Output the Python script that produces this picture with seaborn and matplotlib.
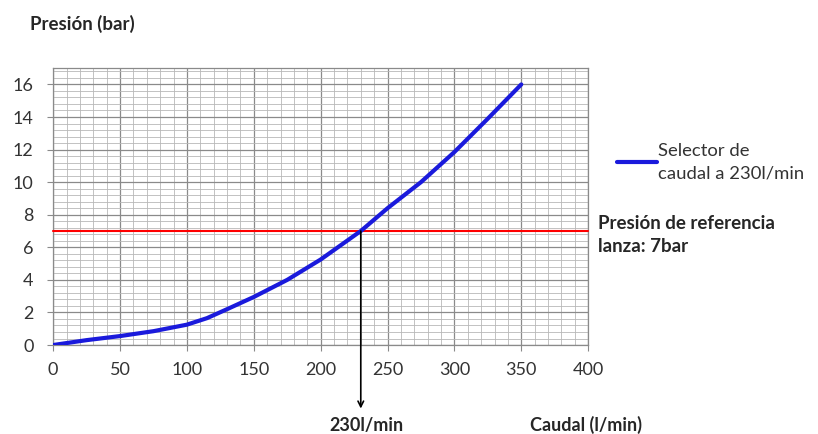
import numpy as np
import pandas as pd
import matplotlib
matplotlib.use('Agg')
import matplotlib.pyplot as plt
from matplotlib.ticker import MultipleLocator
import seaborn as sns

# Curve
caudal = [0, 25, 50, 75, 100, 115, 130, 150, 175, 200, 230, 250, 275, 300, 325, 350]
presion = [0, 0.3, 0.55, 0.85, 1.25, 1.65, 2.2, 2.95, 4.0, 5.25, 7.0, 8.4, 10.0, 11.85, 13.9, 16.0]
presion_ref = 7
caudal_sel = 230

sns.set_style('white')
plt.rcParams['font.family'] = ['Lato', 'DejaVu Sans']

data = pd.DataFrame({'Caudal': caudal, 'Presion': presion})

fig = plt.figure(figsize=(8.18, 4.34), dpi=100)
ax = fig.add_axes([0.065, 0.205, 0.654, 0.638])

ax.set_xlim(0, 400)
ax.set_ylim(0, 17)
ax.xaxis.set_major_locator(MultipleLocator(50))
ax.xaxis.set_minor_locator(MultipleLocator(10))
ax.yaxis.set_major_locator(MultipleLocator(2))
ax.yaxis.set_minor_locator(MultipleLocator(0.4))
ax.grid(which='major', color='#8a8a8a', linewidth=0.9)
ax.grid(which='minor', color='#b8b8b8', linewidth=0.6)
ax.set_axisbelow(True)
for s in ax.spines.values():
    s.set_color('#8a8a8a')
    s.set_linewidth(0.9)
ax.tick_params(which='major', direction='out', length=4, color='#8a8a8a',
               labelsize=13, labelcolor='#333333', left=True, bottom=True)
ax.tick_params(axis='x', which='major', pad=8)
ax.tick_params(axis='y', which='major', pad=10)
ax.tick_params(which='minor', length=0)
ax.set_yticks(range(0, 17, 2))

ax.axhline(presion_ref, color='#ff0000', linewidth=1.5, zorder=3, clip_on=False)

sns.lineplot(data=data, x='Caudal', y='Presion', color='#1a1adc', linewidth=3,
             ax=ax, zorder=4, label='Selector de\ncaudal a 230l/min')

ax.annotate('', xy=(caudal_sel, -3.9), xytext=(caudal_sel, presion_ref),
            arrowprops=dict(arrowstyle='->', color='black', lw=1.2,
                            shrinkA=0, shrinkB=0),
            annotation_clip=False, zorder=5)

ax.set_xlabel('')
ax.set_ylabel('')
leg = ax.legend(loc='upper left', bbox_to_anchor=(1.022, 0.79), frameon=False,
                fontsize=13.3, handlelength=2.2, handletextpad=0.05, labelcolor='#333333')
for t in leg.get_texts():
    t.set_linespacing(1.5)

fig.text(0.037, 0.945, 'Presión (bar)', fontsize=13.5, fontweight='bold', ha='left', va='center')
fig.text(0.731, 0.458, 'Presión de referencia\nlanza: 7bar', fontsize=13.5,
         fontweight='bold', ha='left', va='center', linespacing=1.4)
fig.text(0.448, 0.02, '230l/min', fontsize=13, fontweight='bold', ha='center', va='center')
fig.text(0.648, 0.02, 'Caudal (l/min)', fontsize=13, fontweight='bold', ha='left', va='center')

fig.savefig('out.png', dpi=100)
